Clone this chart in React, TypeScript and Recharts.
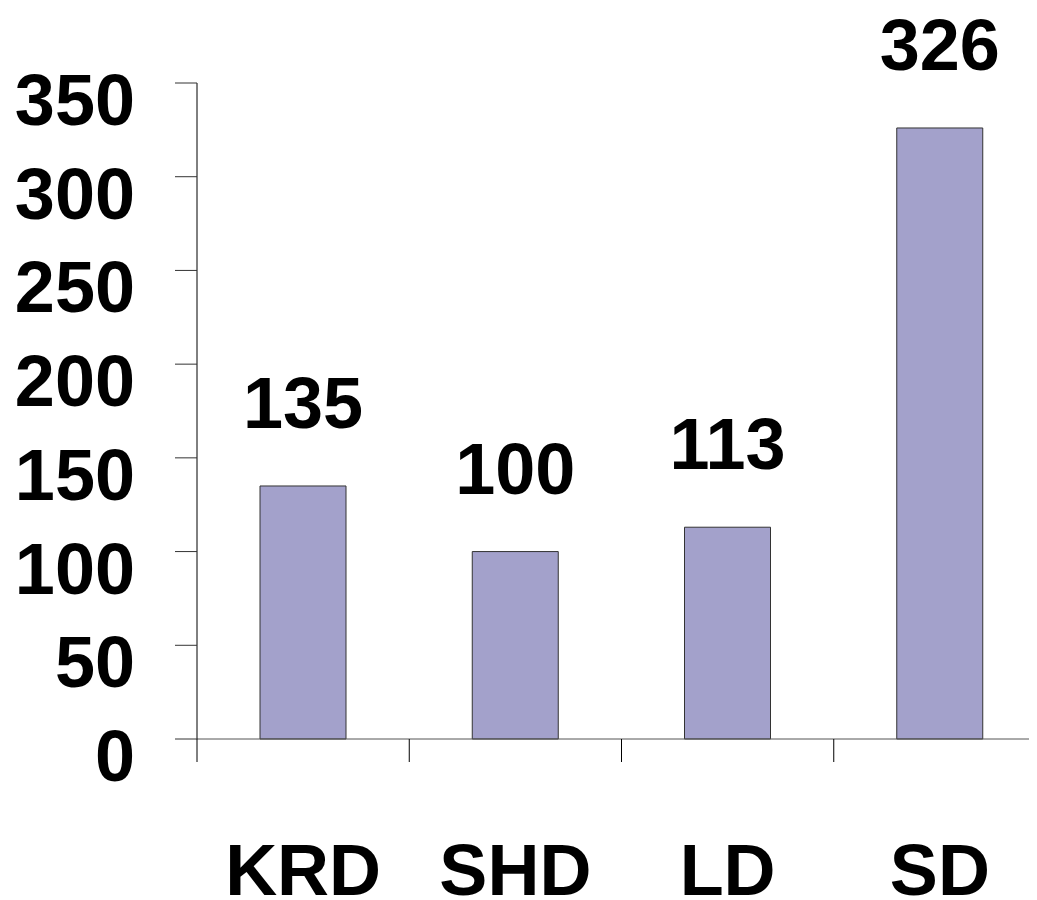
import React from "react";
import { BarChart, Bar, XAxis, YAxis, LabelList } from "recharts";

const categories = ["KRD", "SHD", "LD", "SD"];
const values = [135, 100, 113, 326];
const yTicks = [0, 50, 100, 150, 200, 250, 300, 350];

const data = categories.map((name, i) => ({ name, value: values[i] }));

const FONT = "'Liberation Sans', Arial, Helvetica, sans-serif";

const XTick = (props: any) => {
  const { x, y, payload } = props;
  const off = payload && typeof payload.offset === "number" ? payload.offset : 106.125;
  return (
    <g>
      <line x1={x - off} y1={y - 23} x2={x - off} y2={y} stroke="#000" strokeWidth={1} />
      <text
        x={x}
        y={y + 133}
        textAnchor="middle"
        fontFamily={FONT}
        fontWeight="bold"
        fontSize={72}
        fill="#000"
      >
        {payload.value}
      </text>
    </g>
  );
};

const YTick = (props: any) => {
  const { x, y, payload } = props;
  return (
    <text
      x={x}
      y={y + 42}
      textAnchor="end"
      fontFamily={FONT}
      fontWeight="bold"
      fontSize={72}
      fill="#000"
    >
      {payload.value}
    </text>
  );
};

export default function App() {
  return (
    <div style={{ width: 1029, height: 892, overflow: "hidden", background: "#fff" }}>
      <BarChart
        width={1050}
        height={892}
        data={data}
        margin={{ top: 75, right: 12, left: 0, bottom: 0 }}
      >
        <XAxis
          dataKey="name"
          height={161}
          axisLine={{ stroke: "#555", strokeWidth: 1 }}
          tickLine={false}
          tickSize={23}
          tickMargin={0}
          tick={<XTick />}
          interval={0}
        />
        <YAxis
          width={189}
          domain={[0, 350]}
          ticks={yTicks}
          interval={0}
          axisLine={{ stroke: "#000", strokeWidth: 1 }}
          tickLine={{ stroke: "#333", strokeWidth: 1 }}
          tickSize={22}
          tickMargin={40}
          tick={<YTick />}
        />
        <Bar
          dataKey="value"
          fill="#A3A1CB"
          stroke="#333"
          strokeWidth={1}
          barSize={86}
          isAnimationActive={false}
        >
          <LabelList
            dataKey="value"
            position="top"
            offset={58}
            fontFamily={FONT}
            fontWeight="bold"
            fontSize={72}
            fill="#000"
          />
        </Bar>
      </BarChart>
    </div>
  );
}
